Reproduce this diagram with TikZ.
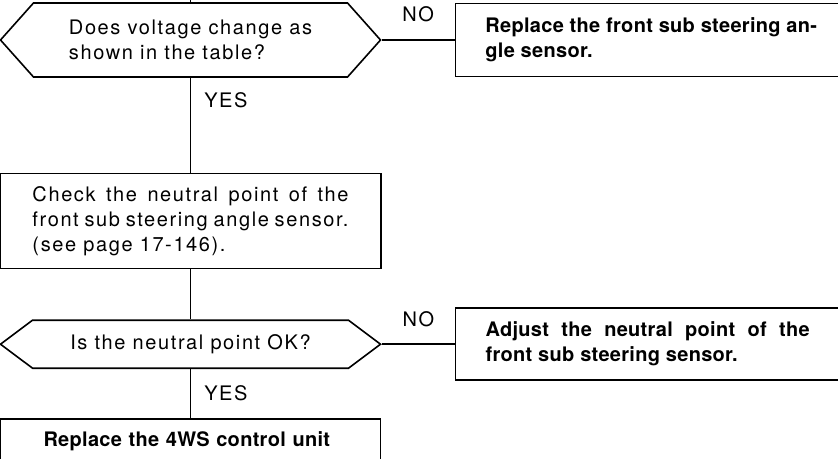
\documentclass[tikz,border=0pt]{standalone}
\usepackage{fontspec}
\setmainfont{TeX Gyre Heros}[LetterSpace=8, BoldFeatures={LetterSpace=1.5}]
\usetikzlibrary{positioning,shapes.symbols}
\newcommand{\spreadline}[2]{\makebox[#1][s]{#2}}

\begin{document}
\begin{tikzpicture}[
  x=0.5pt, y=-0.5pt,
  font=\fontsize{10}{12.5}\selectfont,
  line width=0.8pt,
  ask/.style={draw, signal, signal to=west and east, inner sep=0pt, align=left, minimum width=190pt},
  act/.style={draw, rectangle, inner xsep=15pt, inner ysep=0pt, align=left, minimum width=192pt},
  res/.style={act, font=\fontsize{10}{12.5}\selectfont\bfseries},
  lab/.style={inner sep=0pt}
]
\useasboundingbox (0,0) rectangle (838,459);

% main column
\node[ask, minimum height=37pt, signal pointer angle=96.6] (q1) at (190.5,40) {Does voltage change as\\shown in the table?};
\node[act, minimum width=190.5pt, minimum height=47.5pt, below=47.5pt of q1] (c1)
  {\spreadline{158pt}{Check the neutral point of the}\\
   \spreadline{158pt}{front sub steering angle sensor.}\\
   (see page 17-146).};
\node[ask, minimum height=24pt, signal pointer angle=73.7, below=25pt of c1] (q2) {Is the neutral point OK?};
\node[res, minimum width=190pt, minimum height=22pt, inner xsep=21.5pt, text width=147pt, below=24.5pt of q2] (a4) {Replace the 4WS control unit};

% NO branches
\node[res, minimum height=36.5pt, right=36.5pt of q1] (a1) {Replace the front sub steering an-\\gle sensor.};
\node[res, minimum height=36pt, right=36.5pt of q2] (a3) {\spreadline{162pt}{Adjust the neutral point of the}\\front sub steering sensor.};

\coordinate[above=1.5pt of q1.north] (top);
\draw (top) -- (q1.north);
\draw (q1.south) -- node[lab, pos=0.24, right=6.5pt]{YES} (c1.north);
\draw (c1.south) -- (q2.north);
\draw (q2.south) -- node[lab, right=6.5pt]{YES} (a4.north);
\draw (q1.east) -- node[lab, above=8.5pt]{NO} (a1.west);
\draw (q2.east) -- node[lab, above=8.5pt]{NO} (a3.west);
\end{tikzpicture}
\end{document}
